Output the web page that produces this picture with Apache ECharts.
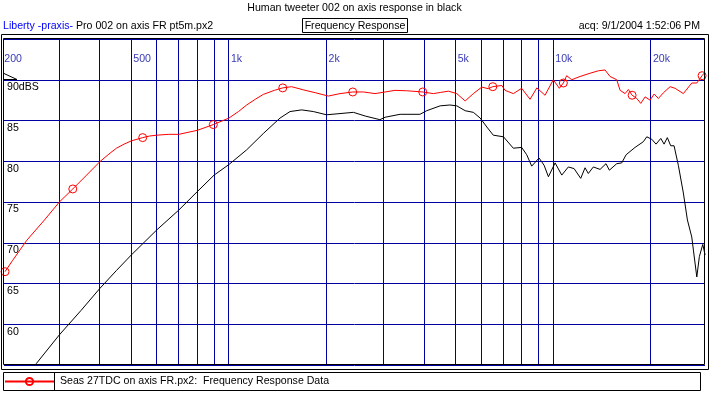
<!DOCTYPE html>
<html>
<head>
<meta charset="utf-8">
<script src="https://cdn.jsdelivr.net/npm/echarts@6/dist/echarts.min.js"></script>
<style>
html,body{margin:0;padding:0;background:#fff;}
#c{width:709px;height:395px;}
</style>
</head>
<body>
<div id="c"></div>
<script>
// ---- data ----
const RED_NAME = 'Seas 27TDC on axis FR.px2:  Frequency Response Data';
const R_FREQ = [204,215,238,270,300,330,364,400,430,450,475,500,542,570,600,650,700,800,895,1000,1070,1134,1205,1276,1380,1465,1560,1700,1850,2025,2200,2408,2600,2820,3030,3250,3530,3958,4270,4500,4750,5040,5350,5670,6020,6300,6508,6940,7100,7530,7990,8480,8900,9430,10000,10440,10742,11000,11400,12090,12990,13770,14440,14960,15690,16070,16650,17040,17500,18090,18610,19190,19880,20460,21090,21850,22920,23740,25180,26730,27700,28760,29160];
const R_DB   = [66.45,67.8,70.3,72.8,75.0,76.6,78.3,79.95,81.0,81.6,82.1,82.5,82.9,83.1,83.2,83.3,83.3,83.8,84.5,85.3,86.1,86.9,87.6,88.2,88.7,89.0,89.15,88.75,88.4,88.0,88.3,88.5,88.5,88.3,88.5,88.7,88.65,88.5,88.3,88.45,88.6,88.3,87.4,88.3,89.1,88.9,89.15,89.3,88.7,88.3,88.95,87.6,89.0,88.1,90.0,88.95,89.6,90.5,90.0,90.4,90.8,91.1,91.2,90.4,90.0,88.7,88.3,88.8,88.1,87.7,87.1,87.9,87.5,88.25,87.7,88.4,89.15,88.95,88.3,89.6,89.6,90.5,90.8];
const R_MARK = [204,330,542,895,1465,2408,3958,6508,10742,17500,28760];

const B_FREQ = [243,255,300,350,400,450,500,600,700,800,900,1000,1134,1276,1437,1543,1676,1820,2000,2200,2420,2630,2920,3030,3370,3880,4070,4480,4800,5040,5350,5670,5950,6240,6530,7020,7530,7990,8280,8580,9040,9370,9660,10130,10620,11130,11590,12150,12530,12820,13290,13940,14540,14890,15690,16260,16770,17870,18950,19420,20120,20740,21450,21960,22470,23020,23570,24300,25180,25910,26730,27040,27700,28210,28900,29380];
const B_DB   = [54.3,55.2,58.7,61.7,64.4,66.6,68.5,71.6,74.0,76.3,78.3,79.6,81.4,83.4,85.3,86.1,86.3,86.1,85.7,85.85,86.0,85.55,85.1,85.4,85.76,85.76,86.2,86.8,86.9,86.8,86.2,86.0,85.3,84.2,83.2,83.0,81.6,81.7,80.8,79.4,80.4,79.5,78.1,79.8,78.3,79.3,79.1,77.9,79.2,78.5,79.3,79.0,79.7,78.9,79.7,79.8,80.8,81.7,82.4,83.0,82.7,82.1,82.8,82.1,82.9,81.9,81.9,79.5,76.1,72.8,70.7,69.1,65.8,68.3,69.8,68.5];

const X_GRID = [300,400,500,600,700,800,900,1000,2000,3000,4000,5000,6000,7000,8000,9000,10000,20000];
const X_TICK_FREQ = [200,500,1000,2000,5000,10000,20000];
const X_TICK_TEXT = ['200','500','1k','2k','5k','10k','20k'];
const Y_MIN = 55, Y_MAX = 95, Y_STEP = 5;
const X_MIN = 202.5, X_MAX = 29360;

// ---- chart ----
const FF = '"Liberation Sans", Arial, sans-serif';
const FS = 10.6;
const FONT = FS + 'px ' + FF;
const GRID_BLUE = '#0000a0';
const chart = echarts.init(document.getElementById('c'), null, {renderer:'canvas'});

const redData = R_FREQ.map((f,i)=>({value:[f,R_DB[i]], symbol: R_MARK.indexOf(f)>=0 ? 'circle' : 'none'}));
const blackData = B_FREQ.map((f,i)=>[f,B_DB[i]]);
const tickData = X_TICK_FREQ.map(f=>[f,Y_MAX]);

const staticGraphics = [
  {type:'rect', z:100, silent:true, shape:{x:1.5,y:34.5,width:707,height:335}, style:{fill:null, stroke:'#000', lineWidth:1}},
  {type:'rect', z:100, silent:true, shape:{x:3.5,y:38.5,width:701,height:326}, style:{fill:null, stroke:'#000', lineWidth:1}},
  {type:'polyline', z:100, silent:true, shape:{points:[[4,73.5],[17,79.5],[4,79.5]]}, style:{fill:null, stroke:'#000', lineWidth:1}},
  {type:'text', z:100, silent:true, x:354.5, y:8, style:{text:'Human tweeter 002 on axis response in black', font:FONT, fill:'#000', align:'center', verticalAlign:'middle'}},
  {type:'text', z:100, silent:true, x:3, y:26, style:{text:'Liberty -praxis-', font:FONT, fill:'#0000ff', align:'left', verticalAlign:'middle'}},
  {type:'text', z:100, silent:true, x:76, y:26, style:{text:'Pro 002 on axis FR pt5m.px2', font:FONT, fill:'#000', align:'left', verticalAlign:'middle'}},
  {type:'rect', z:100, silent:true, shape:{x:302.5,y:18.5,width:105,height:14}, style:{fill:null, stroke:'#000', lineWidth:1}},
  {type:'text', z:100, silent:true, x:355, y:26, style:{text:'Frequency Response', font:FONT, fill:'#000', align:'center', verticalAlign:'middle'}},
  {type:'text', z:100, silent:true, x:700, y:26, style:{text:'acq: 9/1/2004 1:52:06 PM', font:FONT, fill:'#000', align:'right', verticalAlign:'middle'}},
  {type:'rect', z:100, silent:true, shape:{x:3.5,y:372.5,width:697,height:18}, style:{fill:null, stroke:'#000', lineWidth:1}},
  {type:'line', z:100, silent:true, shape:{x1:54.5,y1:372.5,x2:54.5,y2:390.5}, style:{stroke:'#000', lineWidth:1}}
];

chart.setOption({
  animation:false,
  backgroundColor:'#fff',
  textStyle:{fontFamily:FF, fontSize:FS},
  grid:{left:4, top:39, width:701, height:326, show:false},
  xAxis:{type:'log', logBase:10, min:X_MIN, max:X_MAX,
    axisLine:{show:false}, axisTick:{show:false}, axisLabel:{show:false}, splitLine:{show:false}},
  yAxis:{type:'value', min:Y_MIN, max:Y_MAX, interval:Y_STEP,
    axisLine:{show:false}, axisTick:{show:false},
    splitLine:{show:true, lineStyle:{color:GRID_BLUE, width:1}},
    axisLabel:{inside:true, margin:3, verticalAlign:'top', padding:[2,0,0,0], color:'#000', fontSize:FS, fontFamily:FF,
      formatter:v=> (v===Y_MIN||v===Y_MAX) ? '' : (v===90 ? '90dBS' : String(v))}},
  legend:{show:true, data:[RED_NAME], left:4, top:376, padding:0, itemWidth:49, itemHeight:9, itemGap:6,
    textStyle:{color:'#000', fontSize:FS, fontFamily:FF, padding:[0,0,0,1]}},
  series:[
    {name:'ticks', type:'scatter', data:tickData, symbolSize:0, clip:false, z:1, silent:true,
      label:{show:true, position:[2,20.5], align:'left', verticalAlign:'middle', color:GRID_BLUE, fontSize:FS, fontFamily:FF,
        formatter:p=>X_TICK_TEXT[p.dataIndex]}},
    {name:'Human tweeter', type:'line', data:blackData, showSymbol:false, symbol:'none', z:3,
      lineStyle:{color:'#000', width:1}, itemStyle:{color:'#000'}},
    {name:RED_NAME, type:'line', data:redData, showSymbol:true, symbol:'circle', symbolSize:8, z:4,
      lineStyle:{color:'#ff0000', width:1},
      itemStyle:{color:'rgba(255,255,255,0)', borderColor:'#ff0000', borderWidth:1}}
  ],
  graphic:staticGraphics
});

// vertical grid lines placed through the x axis scale, snapped to whole pixels
const gTop = 39, gBottom = 365;
const vlines = X_GRID.map(f => {
  const px = Math.floor(chart.convertToPixel({xAxisIndex:0}, f)) + 0.5;
  return {type:'line', z:1, silent:true, shape:{x1:px, y1:gTop, x2:px, y2:gBottom}, style:{stroke:GRID_BLUE, lineWidth:1}};
});
chart.setOption({graphic: staticGraphics.concat(vlines)}, {replaceMerge:['graphic']});
</script>
</body>
</html>
